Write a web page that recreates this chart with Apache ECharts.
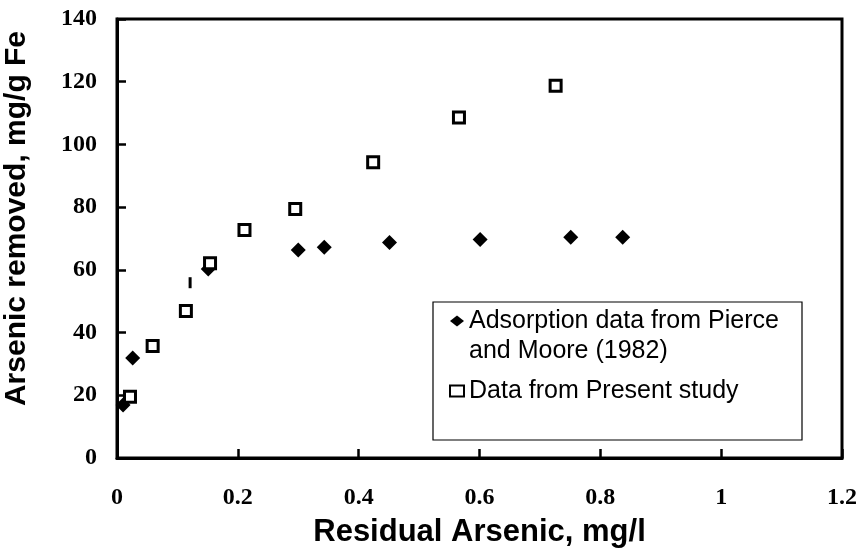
<!DOCTYPE html>
<html>
<head>
<meta charset="utf-8">
<script src="https://cdn.jsdelivr.net/npm/echarts@6/dist/echarts.min.js"></script>
<style>
  html, body { margin: 0; padding: 0; background: #fff; }
  #chart { width: 861px; height: 556px; }
</style>
</head>
<body>
<div id="chart"></div>
<script>
// Pierce and Moore (1982) adsorption data
const pierceX = [0.010, 0.026, 0.151, 0.300, 0.343, 0.451, 0.601, 0.751, 0.837];
const pierceY = [16.9, 31.9, 60.3, 66.3, 67.2, 68.7, 69.7, 70.4, 70.4];
// present study
const studyX = [0.0215, 0.059, 0.114, 0.154, 0.211, 0.295, 0.424, 0.566, 0.726];
const studyY = [19.5, 35.7, 46.9, 62.1, 72.7, 79.4, 94.3, 108.6, 118.7];
// stray tick mark in the original figure
const strayX = [0.121];
const strayY = [55.9];

const pierceName = "Adsorption data from Pierce\nand Moore (1982)";
const studyName = "Data from Present study";

const zip = (xs, ys) => xs.map((x, i) => [x, ys[i]]);

const chart = echarts.init(document.getElementById("chart"));
const tickFont = { fontFamily: "Liberation Serif", fontWeight: "bold", fontSize: 24, color: "#000" };
const titleFont = { fontFamily: "Liberation Sans", fontWeight: "bold", fontSize: 30, color: "#000" };

chart.setOption({
  animation: false,
  grid: {
    left: 117, right: 19, top: 19, bottom: 98,
    outerBoundsMode: "none",
    containLabel: false,
    show: true, borderColor: "#000", borderWidth: 3, backgroundColor: "#fff",
  },
  xAxis: {
    type: "value",
    min: 0, max: 1.2, interval: 0.2,
    name: "Residual Arsenic, mg/l",
    nameLocation: "middle",
    nameGap: 59,
    nameTextStyle: Object.assign({}, titleFont, { fontSize: 31 }),
    axisLine: { lineStyle: { color: "#000", width: 3 } },
    axisTick: { inside: true, length: 9, lineStyle: { color: "#000", width: 2.5 } },
    axisLabel: Object.assign({ margin: 28 }, tickFont),
    splitLine: { show: false },
  },
  yAxis: {
    type: "value",
    min: 0, max: 140, interval: 20,
    name: "Arsenic removed, mg/g Fe",
    nameLocation: "middle",
    nameGap: 85,
    // title sits a little above the plot's middle in the original
    nameTextStyle: Object.assign({ padding: [0, 0, 0, 40] }, titleFont),
    axisLine: { lineStyle: { color: "#000", width: 3 } },
    axisTick: { inside: true, length: 9, lineStyle: { color: "#000", width: 2.5 } },
    axisLabel: Object.assign({ margin: 20 }, tickFont),
    splitLine: { show: false },
  },
  legend: {
    orient: "vertical",
    left: 449, top: 276,
    padding: 0,
    itemGap: 10,
    itemWidth: 14, itemHeight: 11,
    textStyle: { fontFamily: "Liberation Sans", fontSize: 25, color: "#000", lineHeight: 30 },
    // a leading blank line keeps the icon level with the first text line
    formatter: (name) => (name === pierceName ? "\n" + name : name),
    data: [pierceName, studyName],
  },
  graphic: [{
    type: "rect",
    shape: { x: 433, y: 302, width: 369, height: 138 },
    style: { fill: "none", stroke: "#000", lineWidth: 1.2 },
    z: 1,
  }],
  series: [
    {
      name: pierceName,
      type: "scatter",
      symbol: "diamond",
      symbolSize: 15,
      itemStyle: { color: "#000", opacity: 1 },
      data: zip(pierceX, pierceY),
      z: 3,
    },
    {
      name: studyName,
      type: "scatter",
      symbol: "rect",
      symbolSize: 11,
      itemStyle: { color: "#fff", borderColor: "#000", borderWidth: 3, opacity: 1 },
      data: zip(studyX, studyY),
      z: 4,
    },
    {
      name: "stray",
      type: "scatter",
      symbol: "rect",
      symbolSize: [3, 11],
      itemStyle: { color: "#000", opacity: 1 },
      data: zip(strayX, strayY),
      z: 3,
    },
  ],
});
</script>
</body>
</html>
